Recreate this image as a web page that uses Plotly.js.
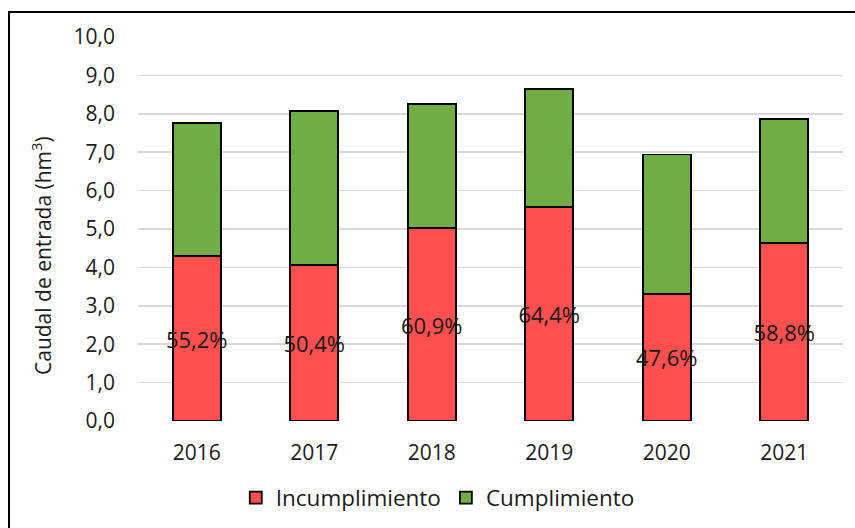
<!DOCTYPE html>
<html>
<head>
<meta charset="utf-8">
<script src="https://cdn.plot.ly/plotly-3.0.1.min.js"></script>
<style>
  html, body { margin: 0; padding: 0; overflow: hidden; background: #fff; }
  #graph { width: 855px; height: 528px; }
  #frame {
    position: absolute; left: 8px; top: 11px; width: 900px; height: 600px;
    border-left: 2px solid #000; border-top: 2px solid #000; pointer-events: none;
  }
</style>
</head>
<body>
<div id="graph"></div>
<div id="frame"></div>
<script>
// years on the x axis
const years = ["2016", "2017", "2018", "2019", "2020", "2021"];

// volumes (hm3)
const incumplimiento = [4.29, 4.07, 5.02, 5.57, 3.31, 4.63];
const cumplimiento = [3.48, 4.00, 3.23, 3.07, 3.63, 3.23];

// percent labels inside red bars
const pctLabels = ["55,2%", "50,4%", "60,9%", "64,4%", "47,6%", "58,8%"];

// y ticks
const yTicks = [0, 1, 2, 3, 4, 5, 6, 7, 8, 9, 10];
const yTickText = ["0,0", "1,0", "2,0", "3,0", "4,0", "5,0", "6,0", "7,0", "8,0", "9,0", "10,0"];

const font = "Open Sans, Noto Sans, sans-serif";
const txtColor = "#1a1a1a";

let traceRed = {
    x: years,
    y: incumplimiento,
    type: "bar",
    name: "Incumplimiento",
    text: pctLabels,
    textposition: "inside",
    insidetextanchor: "middle",
    constraintext: "none",
    textangle: 0,
    insidetextfont: { family: font, size: 22, color: txtColor },
    marker: { color: "#FF5050", line: { color: "#000", width: 1.8 } },
    hoverinfo: "skip"
};

let traceGreen = {
    x: years,
    y: cumplimiento,
    type: "bar",
    name: "Cumplimiento",
    marker: { color: "#70AD47", line: { color: "#000", width: 1.8 } },
    hoverinfo: "skip"
};

let layout = {
    barmode: "stack",
    bargap: 0.59,
    width: 855,
    height: 528,
    margin: { l: 138, r: 12, t: 37, b: 107 },
    paper_bgcolor: "#fff",
    plot_bgcolor: "#fff",
    font: { family: font, size: 21, color: txtColor },
    showlegend: true,
    legend: {
        orientation: "h",
        xref: "container",
        x: 0.512,
        xanchor: "center",
        y: 0.057,
        yref: "container",
        yanchor: "middle",
        font: { family: font, size: 22.5, color: txtColor },
        traceorder: "normal",
        itemwidth: 30
    },
    xaxis: {
        type: "category",
        showgrid: false,
        zeroline: false,
        showline: false,
        ticks: "",
        ticklabelstandoff: 17,
        tickfont: { family: font, size: 21, color: txtColor }
    },
    yaxis: {
        range: [0, 10],
        tickvals: yTicks,
        ticktext: yTickText,
        showgrid: true,
        gridcolor: "#D9D9D9",
        gridwidth: 1.5,
        zeroline: false,
        showline: false,
        ticks: "",
        ticklabelstandoff: 22,
        tickfont: { family: font, size: 21, color: txtColor }
    },
    annotations: [{
        text: "Caudal de entrada (hm<sup>3</sup>)",
        xref: "paper",
        yref: "paper",
        x: -0.136,
        y: 0.43,
        xanchor: "center",
        yanchor: "middle",
        textangle: -90,
        showarrow: false,
        font: { family: font, size: 21, color: txtColor }
    }]
};

Plotly.newPlot("graph", [traceRed, traceGreen], layout, { displayModeBar: false, staticPlot: true });
</script>
</body>
</html>
